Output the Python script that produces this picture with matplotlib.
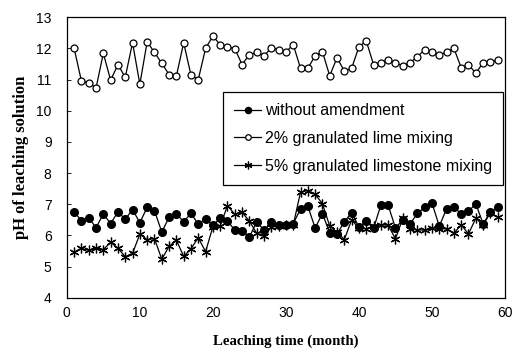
import matplotlib
matplotlib.use("Agg")
import matplotlib.pyplot as plt

months = list(range(1, 60))

# pH of leaching solution
ph_none = [6.75, 6.48, 6.57, 6.25, 6.69, 6.38, 6.76, 6.52, 6.83, 6.41,
           6.90, 6.80, 6.11, 6.58, 6.69, 6.44, 6.71, 6.36, 6.53, 6.32,
           6.55, 6.47, 6.17, 6.15, 5.95, 6.44, 6.17, 6.42, 6.33, 6.33,
           6.38, 6.85, 6.94, 6.24, 6.70, 6.08, 6.04, 6.44, 6.73, 6.27,
           6.45, 6.23, 6.97, 6.97, 6.24, 6.50, 6.37, 6.71, 6.90, 7.04,
           6.30, 6.85, 6.92, 6.69, 6.77, 7.02, 6.37, 6.75, 6.92]

ph_lime = [12.00, 10.95, 10.90, 10.73, 11.84, 10.98, 11.48, 11.07, 12.18, 10.85,
           12.21, 11.87, 11.52, 11.16, 11.11, 12.18, 11.14, 11.00, 12.00, 12.39,
           12.12, 12.05, 11.99, 11.48, 11.80, 11.87, 11.76, 12.02, 11.96, 11.88,
           12.12, 11.36, 11.36, 11.76, 11.89, 11.12, 11.70, 11.27, 11.36, 12.05,
           12.24, 11.48, 11.54, 11.64, 11.54, 11.44, 11.54, 11.73, 11.96, 11.87,
           11.80, 11.87, 12.00, 11.38, 11.48, 11.20, 11.54, 11.57, 11.62]

ph_limestone = [5.47, 5.59, 5.52, 5.59, 5.55, 5.78, 5.59, 5.32, 5.43, 6.04,
                5.87, 5.90, 5.24, 5.65, 5.85, 5.33, 5.57, 5.93, 5.48, 6.28,
                6.30, 6.96, 6.68, 6.74, 6.46, 6.07, 5.98, 6.26, 6.31, 6.33,
                6.33, 7.39, 7.44, 7.32, 7.02, 6.30, 6.10, 5.87, 6.50, 6.23,
                6.22, 6.30, 6.34, 6.33, 5.89, 6.55, 6.20, 6.18, 6.17, 6.25,
                6.22, 6.21, 6.07, 6.34, 6.05, 6.55, 6.33, 6.73, 6.58]

labels = ["without amendment",
          "2% granulated lime mixing",
          "5% granulated limestone mixing"]

fig = plt.figure(figsize=(5.14, 3.5), dpi=100)
ax = fig.add_axes([0.130, 0.149, 0.8525, 0.802])

ax.plot(months, ph_none, color="black", lw=0.9, marker="o", ms=5.5,
        mfc="black", mec="black", label=labels[0])
ax.plot(months, ph_lime, color="black", lw=0.9, marker="o", ms=5,
        mfc="white", mec="black", mew=0.9, label=labels[1])
ax.plot(months, ph_limestone, color="black", lw=0.9, marker=(6, 2, 0), ms=7,
        mec="black", mew=0.9, label=labels[2])

ax.set_xlim(0, 60)
ax.set_ylim(4, 13)
ax.set_xticks(range(0, 61, 10))
ax.set_yticks(range(4, 14))
ax.tick_params(axis="x", length=0, pad=6)
ax.tick_params(axis="y", direction="in", length=3, width=0.6, pad=11)
for lab in ax.get_xticklabels() + ax.get_yticklabels():
    lab.set_family("Liberation Sans")
    lab.set_fontsize(10)
for sp in ax.spines.values():
    sp.set_linewidth(0.9)

ax.set_xlabel("Leaching time (month)", family="Liberation Serif",
              fontweight="bold", fontsize=10.7, labelpad=10)
ax.set_ylabel("pH of leaching solution", family="Liberation Serif",
              fontweight="bold", fontsize=12, labelpad=5)

leg = ax.legend(loc="upper left", bbox_to_anchor=(0.356, 0.733),
                prop={"family": "Liberation Sans", "size": 11.5},
                frameon=True, fancybox=False, edgecolor="black",
                framealpha=1, borderpad=0.7, labelspacing=0.8,
                handlelength=1.7, handletextpad=0.25, borderaxespad=0,
                markerscale=0.8)
leg.get_frame().set_linewidth(0.9)

fig.savefig("out.png", dpi=100)
